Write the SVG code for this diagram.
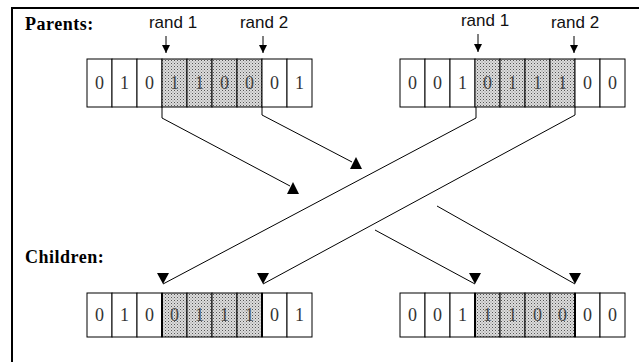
<svg xmlns="http://www.w3.org/2000/svg" width="639" height="362" viewBox="0 0 639 362">
<defs>
<pattern id="dots" width="3" height="3" patternUnits="userSpaceOnUse">
<rect width="3" height="3" fill="#dcdcdc"/>
<rect x="0" y="0" width="1" height="1" fill="#555"/>
<rect x="1.5" y="1.5" width="1" height="1" fill="#888"/>
</pattern>
<marker id="down" viewBox="0 0 12 11" refX="6" refY="11" markerWidth="12" markerHeight="11" markerUnits="userSpaceOnUse" orient="0">
<path d="M0,0 L12,0 L6,11 Z" fill="#000"/>
</marker>
<marker id="small" viewBox="0 0 8 8" refX="4" refY="8" markerWidth="8" markerHeight="8" markerUnits="userSpaceOnUse" orient="0">
<path d="M0,0 L8,0 L4,8 Z" fill="#000"/>
</marker>
</defs>
<style>
.cell{fill:#fff;stroke:#000;stroke-width:1}
.sh{fill:url(#dots);stroke:#000;stroke-width:1}
.d{font-family:"Liberation Serif",serif;font-size:18px;fill:#333;text-anchor:middle}
.ds{font-family:"Liberation Serif",serif;font-size:18px;fill:#444;text-anchor:middle}
.lbl{font-family:"Liberation Serif",serif;font-size:18px;font-weight:bold;fill:#000;letter-spacing:0.5px}
.rand{font-family:"Liberation Sans",Arial,sans-serif;font-size:17px;fill:#111;text-anchor:middle}
.ln{fill:none;stroke:#000;stroke-width:1}
.tri{fill:#000}
.thick{stroke:#000;stroke-width:2}
</style>
<rect width="639" height="362" fill="#fff"/>
<g id="frame">
<path d="M12,362 L12,8 L639,8" fill="none" stroke="#000" stroke-width="2"/>
</g>
<g id="labels">
<text class="lbl" x="25" y="30">Parents:</text>
<text class="lbl" x="25" y="263">Children:</text>
<text class="rand" x="173" y="28">rand 1</text>
<text class="rand" x="264" y="28">rand 2</text>
<text class="rand" x="485" y="26">rand 1</text>
<text class="rand" x="575" y="28">rand 2</text>
</g>
<g id="rand-arrows">
<line class="ln" x1="166" y1="36" x2="166" y2="53" marker-end="url(#small)"/>
<line class="ln" x1="263" y1="36" x2="263" y2="53" marker-end="url(#small)"/>
<line class="ln" x1="478" y1="34" x2="478" y2="52" marker-end="url(#small)"/>
<line class="ln" x1="574" y1="36" x2="574" y2="53" marker-end="url(#small)"/>
</g>
<g id="parent1">
<rect class="cell" x="87" y="59" width="25" height="48"/>
<rect class="cell" x="112" y="59" width="25" height="48"/>
<rect class="cell" x="137" y="59" width="25" height="48"/>
<rect class="sh" x="162" y="59" width="25" height="48"/>
<rect class="sh" x="187" y="59" width="25" height="48"/>
<rect class="sh" x="212" y="59" width="25" height="48"/>
<rect class="sh" x="237" y="59" width="25" height="48"/>
<rect class="cell" x="262" y="59" width="25" height="48"/>
<rect class="cell" x="287" y="59" width="25" height="48"/>
<text class="d" x="99.5" y="89">0</text>
<text class="d" x="124.5" y="89">1</text>
<text class="d" x="149.5" y="89">0</text>
<text class="ds" x="174.5" y="89">1</text>
<text class="ds" x="199.5" y="89">1</text>
<text class="ds" x="224.5" y="89">0</text>
<text class="ds" x="249.5" y="89">0</text>
<text class="d" x="274.5" y="89">0</text>
<text class="d" x="299.5" y="89">1</text>
</g>
<g id="parent2">
<rect class="cell" x="400" y="59" width="25" height="48"/>
<rect class="cell" x="425" y="59" width="25" height="48"/>
<rect class="cell" x="450" y="59" width="25" height="48"/>
<rect class="sh" x="475" y="59" width="25" height="48"/>
<rect class="sh" x="500" y="59" width="25" height="48"/>
<rect class="sh" x="525" y="59" width="25" height="48"/>
<rect class="sh" x="550" y="59" width="25" height="48"/>
<rect class="cell" x="575" y="59" width="25" height="48"/>
<rect class="cell" x="600" y="59" width="25" height="48"/>
<text class="d" x="412.5" y="89">0</text>
<text class="d" x="437.5" y="89">0</text>
<text class="d" x="462.5" y="89">1</text>
<text class="ds" x="487.5" y="89">0</text>
<text class="ds" x="512.5" y="89">1</text>
<text class="ds" x="537.5" y="89">1</text>
<text class="ds" x="562.5" y="89">1</text>
<text class="d" x="587.5" y="89">0</text>
<text class="d" x="612.5" y="89">0</text>
</g>
<g id="child1">
<rect class="cell" x="87" y="293" width="25" height="44"/>
<rect class="cell" x="112" y="293" width="25" height="44"/>
<rect class="cell" x="137" y="293" width="25" height="44"/>
<rect class="sh" x="162" y="293" width="25" height="44"/>
<rect class="sh" x="187" y="293" width="25" height="44"/>
<rect class="sh" x="212" y="293" width="25" height="44"/>
<rect class="sh" x="237" y="293" width="25" height="44"/>
<rect class="cell" x="262" y="293" width="25" height="44"/>
<rect class="cell" x="287" y="293" width="25" height="44"/>
<line class="thick" x1="162" y1="293" x2="162" y2="337"/>
<line class="thick" x1="262" y1="293" x2="262" y2="337"/>
<text class="d" x="99.5" y="321">0</text>
<text class="d" x="124.5" y="321">1</text>
<text class="d" x="149.5" y="321">0</text>
<text class="ds" x="174.5" y="321">0</text>
<text class="ds" x="199.5" y="321">1</text>
<text class="ds" x="224.5" y="321">1</text>
<text class="ds" x="249.5" y="321">1</text>
<text class="d" x="274.5" y="321">0</text>
<text class="d" x="299.5" y="321">1</text>
</g>
<g id="child2">
<rect class="cell" x="400" y="293" width="25" height="44"/>
<rect class="cell" x="425" y="293" width="25" height="44"/>
<rect class="cell" x="450" y="293" width="25" height="44"/>
<rect class="sh" x="475" y="293" width="25" height="44"/>
<rect class="sh" x="500" y="293" width="25" height="44"/>
<rect class="sh" x="525" y="293" width="25" height="44"/>
<rect class="sh" x="550" y="293" width="25" height="44"/>
<rect class="cell" x="575" y="293" width="25" height="44"/>
<rect class="cell" x="600" y="293" width="25" height="44"/>
<line class="thick" x1="475" y1="293" x2="475" y2="337"/>
<line class="thick" x1="575" y1="293" x2="575" y2="337"/>
<text class="d" x="412.5" y="321">0</text>
<text class="d" x="437.5" y="321">0</text>
<text class="d" x="462.5" y="321">1</text>
<text class="ds" x="487.5" y="321">1</text>
<text class="ds" x="512.5" y="321">1</text>
<text class="ds" x="537.5" y="321">0</text>
<text class="ds" x="562.5" y="321">0</text>
<text class="d" x="587.5" y="321">0</text>
<text class="d" x="612.5" y="321">0</text>
</g>
<g id="connectors">
<polyline class="ln" points="162,107 162,118 290,186"/>
<path class="tri" d="M293,182 L287,194 L299,194 Z"/>
<polyline class="ln" points="262,107 262,115 352,162"/>
<path class="tri" d="M356,157 L350,169 L362,169 Z"/>
<polyline class="ln" points="476,107 476,118 163,284" marker-end="url(#down)"/>
<polyline class="ln" points="575,107 575,115 263,284" marker-end="url(#down)"/>
<line class="ln" x1="375" y1="230" x2="475" y2="284" marker-end="url(#down)"/>
<line class="ln" x1="437" y1="206" x2="575" y2="284" marker-end="url(#down)"/>
</g>
</svg>
